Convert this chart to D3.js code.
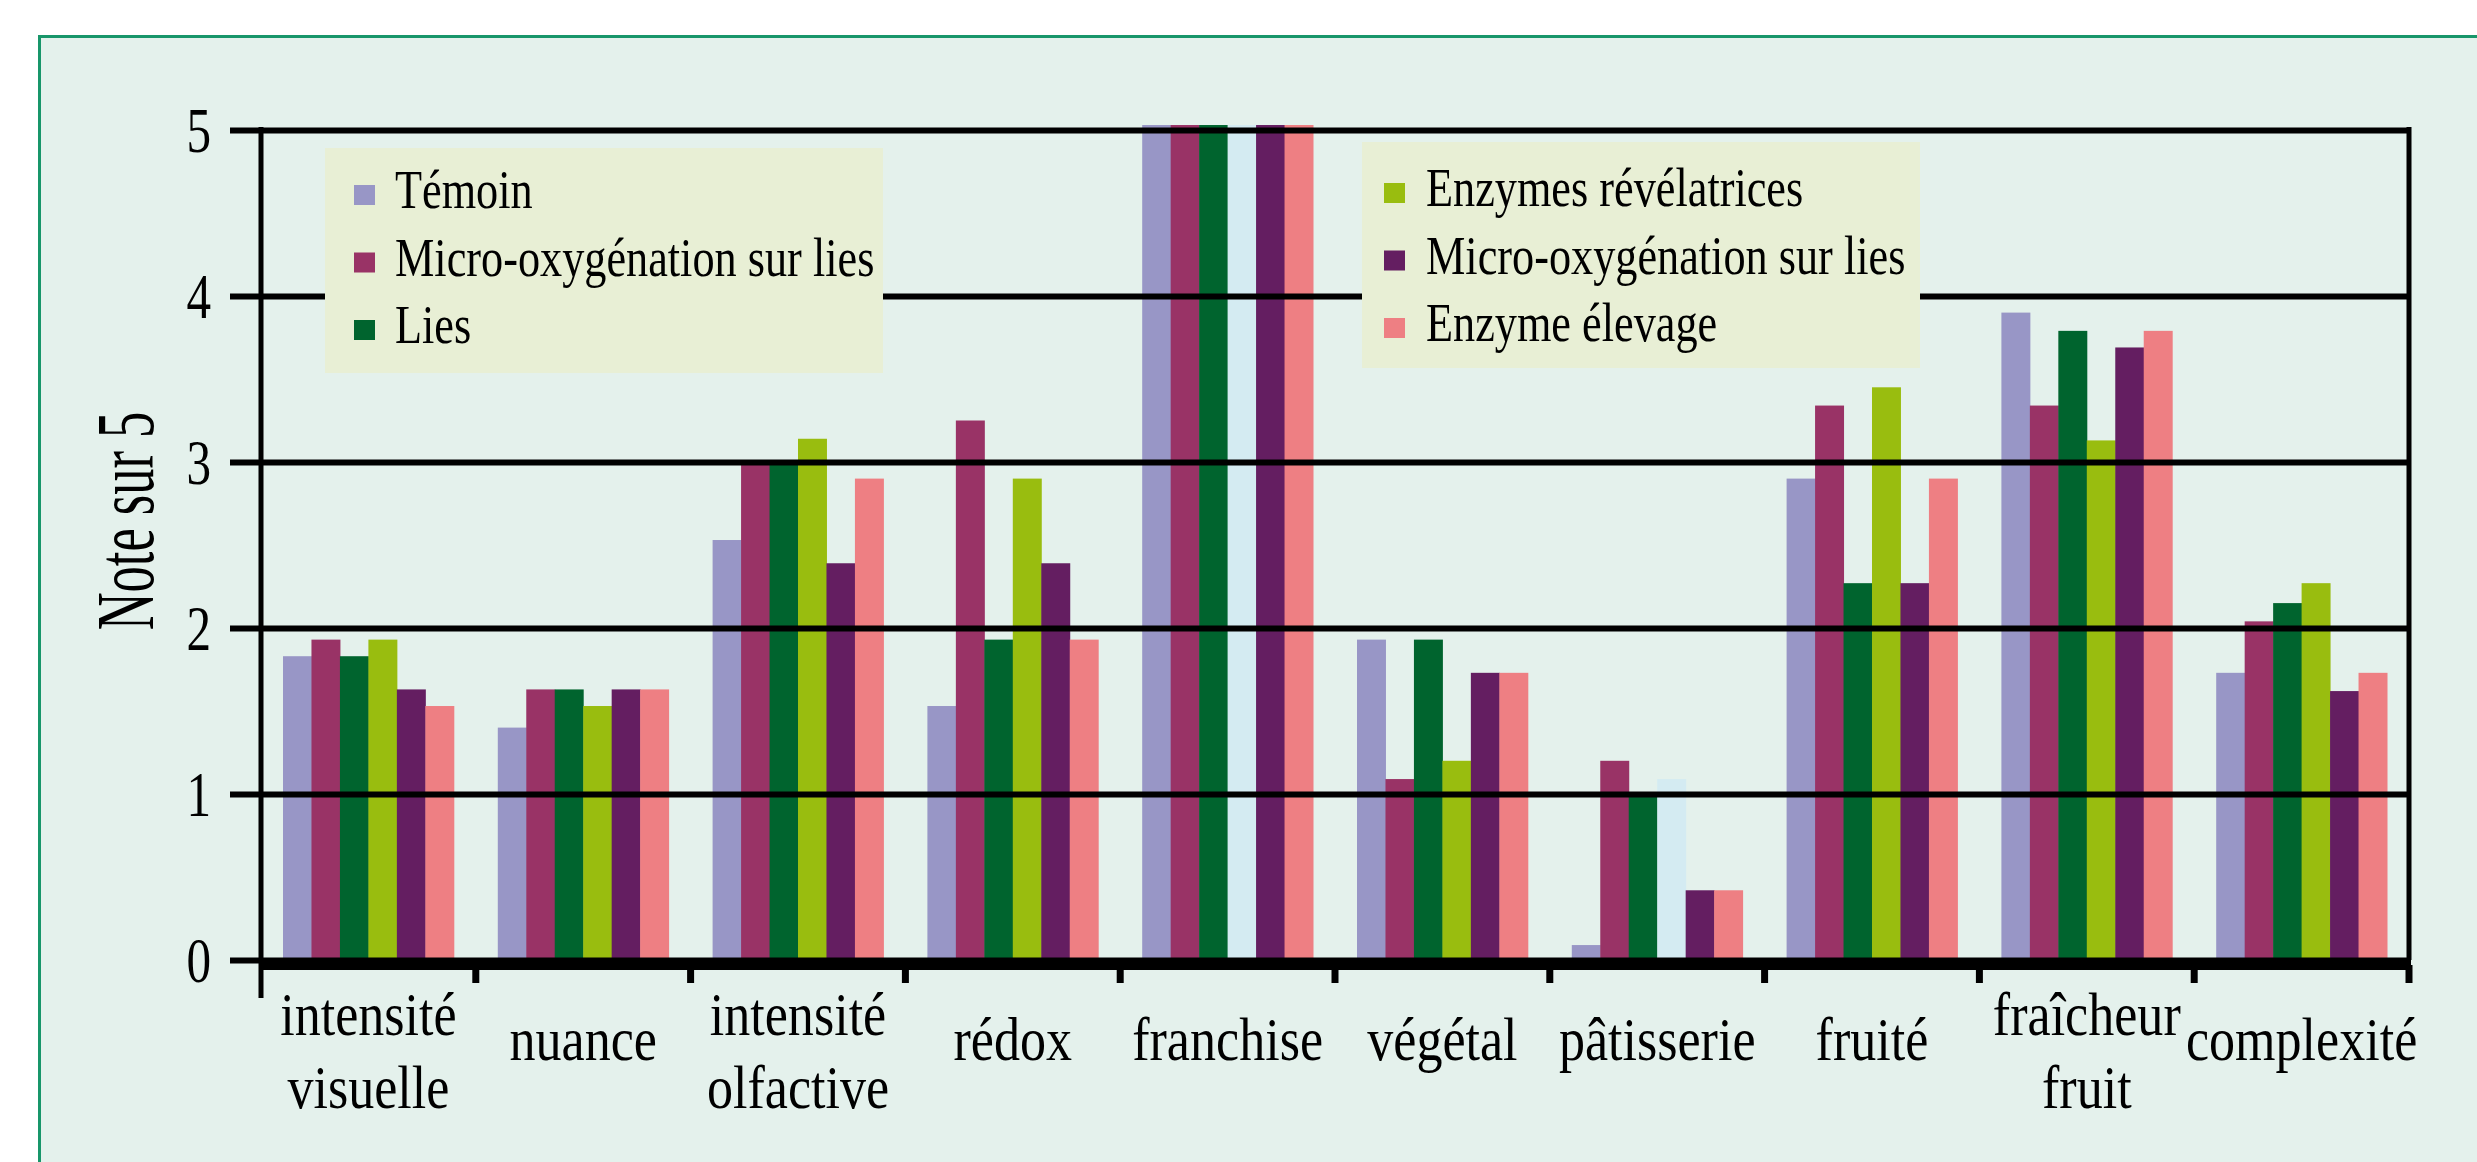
<!DOCTYPE html>
<html>
<head>
<meta charset="utf-8">
<script src="https://d3js.org/d3.v7.min.js"></script>
<style>
  body { margin: 0; background: #ffffff; }
  text { font-family: "Liberation Serif", "Times New Roman", serif; fill: #000; }
</style>
</head>
<body>
<svg id="chart"></svg>
<script>
       // categories (x axis)
       var categories = ["intensité visuelle", "nuance", "intensité olfactive", "rédox", "franchise",
           "végétal", "pâtisserie", "fruité", "fraîcheur fruit", "complexité"];

       // series names, in legend order
       var seriesNames = ["Témoin", "Micro-oxygénation sur lies", "Lies",
           "Enzymes révélatrices", "Micro-oxygénation sur lies", "Enzyme élevage"];

       // values (note sur 5), one array per series
       var temoin = [1.83, 1.40, 2.53, 1.53, 5.03, 1.93, 0.09, 2.90, 3.90, 1.73];
       var microOxLies = [1.93, 1.63, 3.00, 3.25, 5.03, 1.09, 1.20, 3.34, 3.34, 2.04];
       var lies = [1.83, 1.63, 3.00, 1.93, 5.03, 1.93, 1.00, 2.27, 3.79, 2.15];
       var enzymesRev = [1.93, 1.53, 3.14, 2.90, 5.03, 1.20, 1.09, 3.45, 3.13, 2.27];
       var microOxLies2 = [1.63, 1.63, 2.39, 2.39, 5.03, 1.73, 0.42, 2.27, 3.69, 1.62];
       var enzymeElev = [1.53, 1.63, 2.90, 1.93, 5.03, 1.73, 0.42, 2.90, 3.79, 1.73];

       // categories where the "Enzymes révélatrices" bar is printed pale
       var paleCategories = ["franchise", "pâtisserie"];

       var yTicks = [0, 1, 2, 3, 4, 5];

       var seriesValues = [temoin, microOxLies, lies, enzymesRev, microOxLies2, enzymeElev];
       var colors = ["#9896c6", "#993366", "#00642e", "#99bd0f", "#641e61", "#ee7f83"];
       var paleColor = "#d4ebf2";

       var width = 2477;
       var height = 1162;

       var svg = d3.select("#chart")
           .attr("width", width)
           .attr("height", height);

       // panel
       svg.append("rect")
           .attr("x", 39.5)
           .attr("y", 36.5)
           .attr("width", 2600)
           .attr("height", 1300)
           .style("fill", "#e4f1ec")
           .style("stroke", "#18966a")
           .style("stroke-width", 3);

       // plot box (window.top is read-only, so no "top" here)
       var plotLeft = 261;
       var plotRight = 2409;
       var plotTop = 130;
       var plotBottom = 960;

       var x0 = d3.scaleBand()
           .domain(categories)
           .range([plotLeft, plotRight]);

       var bw = x0.bandwidth();

       var x1 = d3.scaleBand()
           .domain(d3.range(seriesValues.length))
           .range([22, bw - 22]);

       var y = d3.scaleLinear()
           .domain([0, 5])
           .range([plotBottom, plotTop]);

       // bars
       var groups = svg.selectAll(".group")
           .data(categories)
           .enter().append("g")
           .attr("class", "group")
           .attr("transform", function (d) {
               return "translate(" + x0(d) + ",0)";
           });

       groups.selectAll("rect")
           .data(function (d, i) {
               return seriesValues.map(function (s, k) {
                   return { cat: d, series: k, value: s[i] };
               });
           })
           .enter().append("rect")
           .attr("x", function (d) {
               return x1(d.series);
           })
           .attr("width", x1.bandwidth() + 0.5)
           .attr("y", function (d) {
               return y(d.value);
           })
           .attr("height", function (d) {
               return plotBottom - y(d.value);
           })
           .style("fill", function (d) {
               if (d.series == 3 && paleCategories.indexOf(d.cat) >= 0) {
                   return paleColor;
               }
               return colors[d.series];
           });

       // y axis with gridlines
       var gridStart = 230;
       var tickLen = plotRight + 2 - gridStart;
       var yAxis = svg.append("g")
           .attr("transform", "translate(" + (plotRight + 2) + ",0)")
           .call(d3.axisLeft(y)
               .tickValues(yTicks)
               .tickFormat(d3.format("d"))
               .tickSize(tickLen)
               .tickPadding(19));

       yAxis.select(".domain").remove();
       yAxis.selectAll("line")
           .style("stroke", "#000")
           .style("stroke-width", 6);
       yAxis.selectAll("text")
           .attr("x", null)
           .attr("dy", "0.34em")
           .attr("transform", "translate(" + (-(tickLen + 19)) + ",0) scale(0.78,1)")
           .style("font-size", "63px")
           .style("font-family", "'Liberation Serif', 'Times New Roman', serif");

       // left and right frame lines of the plot
       svg.append("line")
           .attr("x1", plotLeft).attr("x2", plotLeft)
           .attr("y1", plotTop - 3).attr("y2", 998)
           .style("stroke", "#000").style("stroke-width", 5);
       svg.append("line")
           .attr("x1", plotRight).attr("x2", plotRight)
           .attr("y1", plotTop - 3).attr("y2", plotBottom)
           .style("stroke", "#000").style("stroke-width", 5);

       // x axis baseline + ticks between categories
       svg.append("line")
           .attr("x1", plotLeft - 2).attr("x2", plotRight + 2)
           .attr("y1", plotBottom + 5).attr("y2", plotBottom + 5)
           .style("stroke", "#000").style("stroke-width", 10);

       var bounds = categories.map(function (d) { return x0(d); }).concat([plotRight]);
       svg.selectAll(".xtick")
           .data(bounds.slice(1))
           .enter().append("line")
           .attr("class", "xtick")
           .attr("x1", function (d) { return d; })
           .attr("x2", function (d) { return d; })
           .attr("y1", plotBottom + 5)
           .attr("y2", 983)
           .style("stroke", "#000")
           .style("stroke-width", 7);

       // category labels (split on the space into two lines)
       var labels = svg.selectAll(".xlabel")
           .data(categories)
           .enter().append("text")
           .attr("class", "xlabel")
           .attr("text-anchor", "middle")
           .attr("transform", function (d) {
               var lines = d.split(" ");
               var yy = lines.length > 1 ? 1035 : 1060;
               return "translate(" + (x0(d) + bw / 2) + "," + yy + ") scale(0.84,1)";
           })
           .style("font-size", "62px");

       labels.selectAll("tspan")
           .data(function (d) { return d.split(" "); })
           .enter().append("tspan")
           .attr("x", 0)
           .attr("dy", function (d, i) { return i == 0 ? 0 : 73; })
           .text(function (d) { return d; });

       // axis title
       svg.append("text")
           .attr("text-anchor", "middle")
           .attr("transform", "translate(153,521) rotate(-90) scale(0.64,1)")
           .style("font-size", "82px")
           .text("Note sur 5");

       // legends (two boxes of three entries)
       var legendBoxes = [
           { x: 325, y: 148, w: 558, h: 225, sx: 29, tx: 70, first: 60, items: [0, 1, 2] },
           { x: 1362, y: 142, w: 558, h: 226, sx: 22, tx: 64, first: 64, items: [3, 4, 5] }
       ];

       legendBoxes.forEach(function (b) {
           var g = svg.append("g")
               .attr("transform", "translate(" + b.x + "," + b.y + ")");
           g.append("rect")
               .attr("width", b.w)
               .attr("height", b.h)
               .style("fill", "#e8efd5");
           var item = g.selectAll(".item")
               .data(b.items)
               .enter().append("g")
               .attr("transform", function (d, i) {
                   return "translate(0," + (b.first + i * 67.5) + ")";
               });
           item.append("rect")
               .attr("x", b.sx)
               .attr("y", -23)
               .attr("width", 21)
               .attr("height", 20)
               .style("fill", function (d) { return colors[d]; });
           item.append("text")
               .attr("transform", "translate(" + b.tx + ",0) scale(0.805,1)")
               .style("font-size", "55px")
               .text(function (d) { return seriesNames[d]; });
       });
</script>
</body>
</html>
